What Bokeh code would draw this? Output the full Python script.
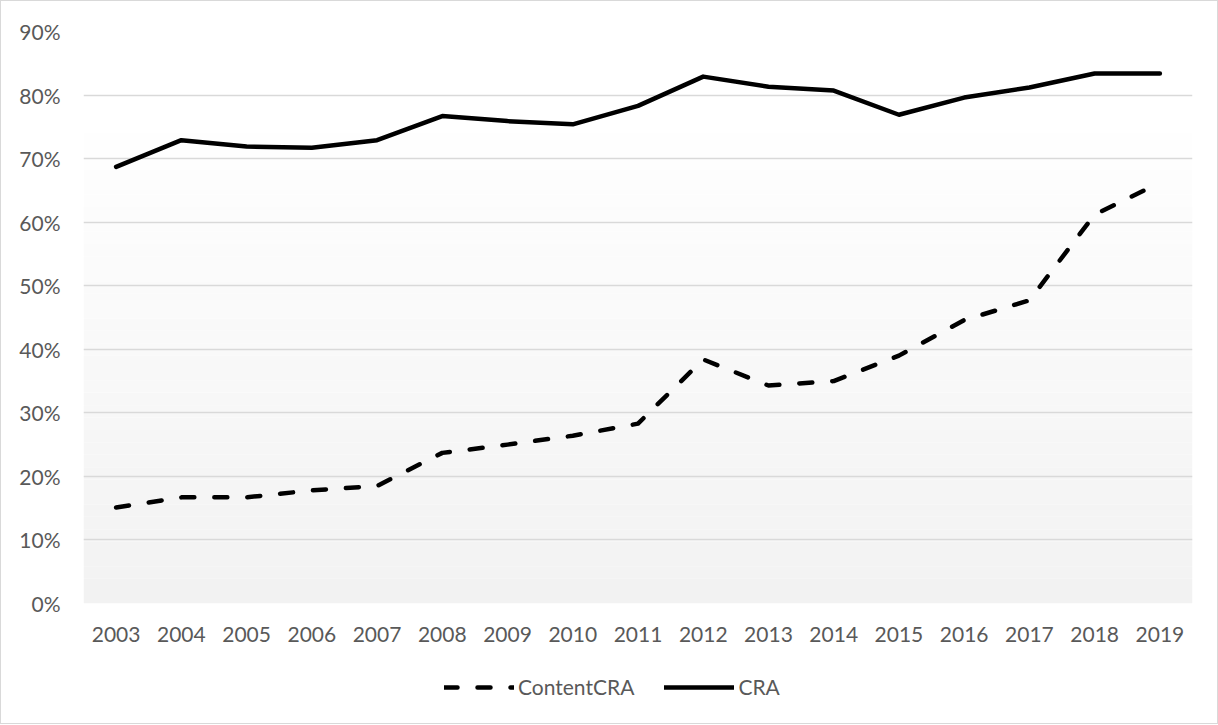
from bokeh.plotting import figure
from bokeh.layouts import column
from bokeh.models import (FactorRange, Range1d, NumeralTickFormatter, FixedTicker,
                          Legend, LegendItem, BoxAnnotation)
from bokeh.embed import file_html
from bokeh.resources import INLINE

# Share of items, 2003-2019
years = [str(y) for y in range(2003, 2020)]
cra = [0.687, 0.729, 0.719, 0.717, 0.729, 0.767, 0.759, 0.754, 0.783,
       0.829, 0.813, 0.807, 0.769, 0.796, 0.812, 0.834, 0.834]
content_cra = [0.151, 0.167, 0.167, 0.178, 0.185, 0.237, 0.250, 0.264, 0.283,
               0.384, 0.343, 0.350, 0.390, 0.446, 0.477, 0.612, 0.662]
y_ticks = [0.0, 0.1, 0.2, 0.3, 0.4, 0.5, 0.6, 0.7, 0.8, 0.9]

FONT = "Lato"
TEXT = "#595959"
GRID = "#d9d9d9"
DASH = "13 20"
LW = 4.5

# main chart
p = figure(width=1216, height=650,
           x_range=FactorRange(*years, range_padding=0),
           y_range=Range1d(0, 0.9), output_backend="svg", toolbar_location=None,
           min_border_left=82, min_border_right=25, min_border_top=30,
           min_border_bottom=48)
p.outline_line_color = None
p.background_fill_color = "white"
p.border_fill_color = "white"

# soft vertical shading of the plot area: white near the top, light grey at the base
n_bands = 40
top_shade = 0.78
for i in range(n_bands):
    lo = top_shade * i / n_bands
    hi = top_shade * (i + 1) / n_bands
    t = (i + 0.5) / n_bands
    g = int(round(242 + (255 - 242) * t))
    p.add_layout(BoxAnnotation(bottom=lo, top=hi, fill_color=(g, g, g),
                               fill_alpha=1.0, line_color=None, level="image"))

p.ygrid.ticker = FixedTicker(ticks=y_ticks)
p.ygrid.grid_line_color = GRID
p.ygrid.grid_line_width = 1.5
p.ygrid.level = "underlay"
p.xgrid.grid_line_color = None

p.yaxis.ticker = FixedTicker(ticks=y_ticks)
p.yaxis.formatter = NumeralTickFormatter(format="0%")
for ax in (p.xaxis[0], p.yaxis[0]):
    ax.axis_line_color = None
    ax.major_tick_line_color = None
    ax.minor_tick_line_color = None
    ax.major_label_text_font = FONT
    ax.major_label_text_font_size = "21px"
    ax.major_label_text_color = TEXT
p.yaxis.major_label_standoff = 17
p.xaxis.major_label_standoff = 17

p.line(years, content_cra, line_color="black", line_width=LW,
       line_dash=DASH, line_cap="round", line_join="round")
p.line(years, cra, line_color="black", line_width=LW,
       line_cap="round", line_join="round")

# legend strip underneath the chart; its key renderers hold a single
# undefined point so that nothing is plotted, only the legend swatches
nan = float("nan")
leg = figure(width=1216, height=72, x_range=Range1d(0, 1), y_range=Range1d(0, 1),
             output_backend="svg", toolbar_location=None,
             x_axis_location=None, y_axis_location=None, min_border=0)
leg.outline_line_color = None
leg.grid.visible = False
leg.border_fill_color = "white"
leg.background_fill_color = "white"
k_content = leg.line(x=[nan], y=[nan], line_color="black", line_width=LW,
                     line_dash=DASH, line_cap="round")
k_cra = leg.line(x=[nan], y=[nan], line_color="black", line_width=LW,
                 line_cap="round")

legend = Legend(items=[LegendItem(label="ContentCRA", renderers=[k_content]),
                       LegendItem(label="CRA", renderers=[k_cra])],
                orientation="horizontal", location=(361, 24),
                glyph_width=70, glyph_height=22, label_standoff=4, spacing=30,
                padding=0, margin=0, border_line_color=None,
                background_fill_alpha=0,
                label_text_font=FONT, label_text_font_size="21px",
                label_text_color=TEXT)
leg.add_layout(legend, "center")

page = column(p, leg, spacing=0, styles={"border": "1px solid #d9d9d9"})

open("out.html", "w").write(file_html(page, INLINE))
